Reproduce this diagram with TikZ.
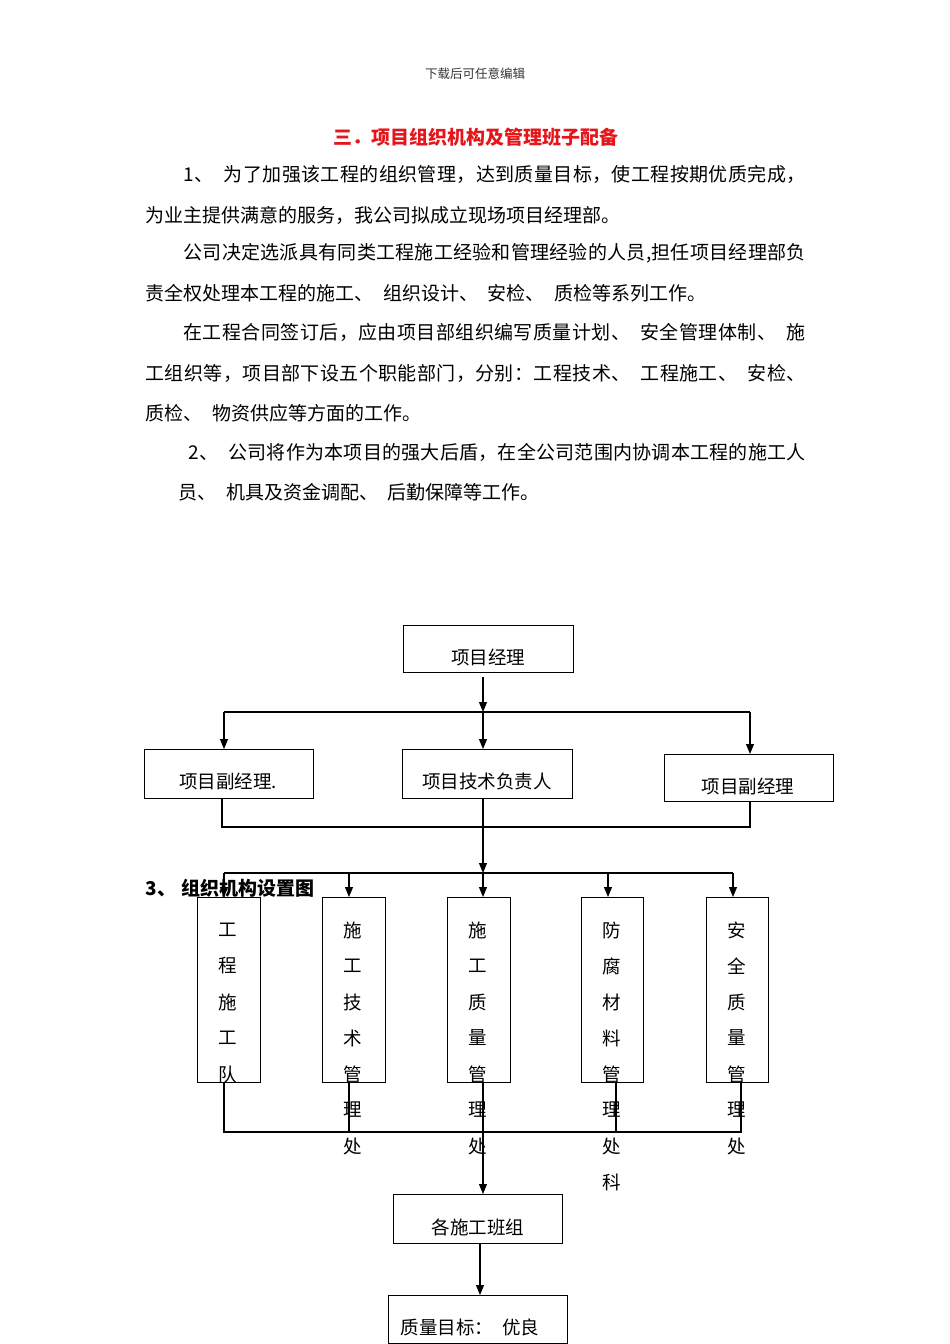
\documentclass[tikz,border=0pt]{standalone}
\usepackage{fontspec}
\setmainfont{Noto Sans CJK SC}
\usetikzlibrary{arrows.meta}
\definecolor{titlered}{RGB}{228,22,28}
\newcommand{\cjsp}{\hskip 9.5pt\relax}
\def\spreadA#1{\ifx#1\relax\else\hskip 0pt plus 1fil #1\expandafter\spreadA\fi}
\def\spreadB#1{#1\spreadA}
\newcommand{\jline}[2]{\hbox to #1pt{\spreadB#2\relax}}
\begin{document}
\begin{tikzpicture}[x=1pt,y=-1pt,
  line width=1.1pt,
  tip/.style={-{Triangle[length=10pt,width=8pt]}},
  box/.style={draw, line width=1.1pt, inner sep=0pt, anchor=north west},
  lbl/.style={inner sep=0pt, font=\fontsize{18.5}{18.5}\selectfont},
  body/.style={inner sep=0pt, anchor=west, font=\fontsize{19}{19}\selectfont},
  vch/.style={inner sep=0pt, font=\fontsize{18.5}{18.5}\selectfont}]
\useasboundingbox (0,0) rectangle (950,1344);

% header and title
\node[inner sep=0pt, font=\fontsize{12.5}{12.5}\selectfont, text=black!80] (hdr) at (475,74) {下载后可任意编辑};
\node[inner sep=0pt, font=\fontsize{19}{19}\selectfont\bfseries, text=titlered] (ttl) at (476,137) {三．项目组织机构及管理班子配备};

% body text
\node[body] (l1) at (183,174) {\jline{622}{1、\cjsp 为了加强该工程的组织管理，达到质量目标，使工程按期优质完成，}};
\node[body] (l2) at (145,215) {为业主提供满意的服务，我公司拟成立现场项目经理部。};
\node[body] (l3) at (183,253) {\jline{622}{公司决定选派具有同类工程施工经验和管理经验的人员,担任项目经理部负}};
\node[body] (l4) at (145,293) {责全权处理本工程的施工、\cjsp 组织设计、\cjsp 安检、\cjsp 质检等系列工作。};
\node[body] (l5) at (183,332) {\jline{622}{在工程合同签订后，应由项目部组织编写质量计划、\cjsp 安全管理体制、\cjsp 施}};
\node[body] (l6) at (145,373) {\jline{660}{工组织等，项目部下设五个职能部门，分别：工程技术、\cjsp 工程施工、\cjsp 安检、}};
\node[body] (l7) at (145,413) {质检、\cjsp 物资供应等方面的工作。};
\node[body] (l8) at (188,452) {\jline{617}{2、\cjsp 公司将作为本项目的强大后盾，在全公司范围内协调本工程的施工人}};
\node[body] (l9) at (178,492) {员、\cjsp 机具及资金调配、\cjsp 后勤保障等工作。};

% level 1
\node[box, minimum width=170pt, minimum height=47pt] (pm) at (403,625) {};
\node[lbl] (pmt) at (488,657) {项目经理};

% level 2
\node[box, minimum width=169pt, minimum height=49pt] (dl) at (144,749) {};
\node[lbl] (dlt) at (228,781) {项目副经理.};
\node[box, minimum width=170pt, minimum height=49pt] (tl) at (402,749) {};
\node[lbl] (tlt) at (487,781) {项目技术负责人};
\node[box, minimum width=169pt, minimum height=47pt] (dr) at (664,754) {};
\node[lbl] (drt) at (748,786) {项目副经理};

\coordinate (pmout) at (483,677);
\coordinate (j1) at (483,712);
\coordinate (bl) at (224,712);
\coordinate (br) at (750,712);
\draw[tip] (pmout) -- (j1);
\draw (bl) -- (br);
\draw[tip] (bl) -- (bl |- dl.north);
\draw[tip] (j1) -- (j1 |- tl.north);
\draw[tip] (br) -- (br |- dr.north);

\coordinate (cl) at (222,827);
\coordinate (cr) at (750,827);
\draw (cl |- dl.south) -- (cl) -- (cr) -- (cr |- dr.south);
\coordinate (j2) at (483,873);
\draw[tip] (j1 |- tl.south) -- (j2);

% level 3
\coordinate (b1) at (224,873);
\coordinate (b2) at (349,873);
\coordinate (b4) at (608,873);
\coordinate (b5) at (733,873);
\draw (b1) -- (b5);
\node[box, minimum width=63pt, minimum height=185pt] (d1) at (197,897) {};
\node[box, minimum width=63pt, minimum height=185pt] (d2) at (322,897) {};
\node[box, minimum width=63pt, minimum height=185pt] (d3) at (447,897) {};
\node[box, minimum width=62pt, minimum height=185pt] (d4) at (581,897) {};
\node[box, minimum width=62pt, minimum height=185pt] (d5) at (706,897) {};
\draw[tip] (b1) -- (b1 |- d1.north);
\draw[tip] (b2) -- (b2 |- d2.north);
\draw[tip] (j2) -- (j2 |- d3.north);
\draw[tip] (b4) -- (b4 |- d4.north);
\draw[tip] (b5) -- (b5 |- d5.north);

\foreach \c [count=\i] in {工,程,施,工,队} \node[vch] (v1-\i) at (228,894+36*\i) {\c};
\foreach \c [count=\i] in {施,工,技,术,管,理,处} \node[vch] (v2-\i) at (353,894+36*\i) {\c};
\foreach \c [count=\i] in {施,工,质,量,管,理,处} \node[vch] (v3-\i) at (478,894+36*\i) {\c};
\foreach \c [count=\i] in {防,腐,材,料,管,理,处,科} \node[vch] (v4-\i) at (612,894+36*\i) {\c};
\foreach \c [count=\i] in {安,全,质,量,管,理,处} \node[vch] (v5-\i) at (737,894+36*\i) {\c};

\node[body, font=\fontsize{19}{19}\selectfont\bfseries] (cap) at (145,888) {3、\hskip 5pt 组织机构设置图};

% bottom bus
\coordinate (e1) at (224,1132);
\coordinate (e2) at (349,1132);
\coordinate (e3) at (483,1132);
\coordinate (e4) at (616,1132);
\coordinate (e5) at (741,1132);
\draw (e1 |- d1.south) -- (e1) -- (e5) -- (e5 |- d5.south);
\draw (e2 |- d2.south) -- (e2);
\draw (e4 |- d4.south) -- (e4);

% level 4
\node[box, minimum width=169pt, minimum height=49pt] (gz) at (393,1194) {};
\node[lbl] (gzt) at (478,1227) {各施工班组};
\draw[tip] (e3 |- d3.south) -- (e3 |- gz.north);

\node[box, minimum width=179pt, minimum height=47.5pt] (goal) at (388,1295) {};
\node[lbl] (goalt) at (470,1327) {质量目标：\cjsp 优良};
\coordinate (gzout) at (480,1243);
\draw[tip] (gzout) -- (gzout |- goal.north);
\end{tikzpicture}
\end{document}
